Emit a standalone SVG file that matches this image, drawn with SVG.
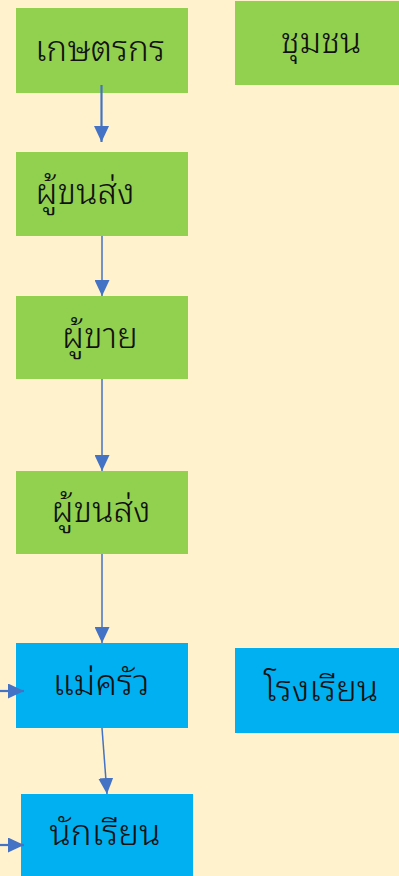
<svg xmlns="http://www.w3.org/2000/svg" width="399" height="876" viewBox="0 0 399 876">
<defs>
<style>
.g{fill:#92D050}
.b{fill:#00B0F0}
.t{font-family:"Noto Sans Thai Looped","Noto Sans Thai","Noto Sans","DejaVu Sans",sans-serif;font-size:35px;font-weight:300;fill:#111;text-anchor:middle}
.c{stroke:#4472C4;stroke-width:1.5;fill:none;marker-end:url(#ah)}
.c2{stroke:#4472C4;stroke-width:2.2;fill:none;marker-end:url(#ah)}
</style>
<marker id="ah" markerUnits="userSpaceOnUse" markerWidth="16" markerHeight="15" refX="16" refY="7.5" orient="auto">
<path d="M0,0 L16,7.5 L0,15 z" fill="#4472C4"/>
</marker>
</defs>
<rect width="399" height="876" fill="#FFF2CC"/>
<g id="n1"><rect class="g" x="16" y="8" width="172" height="85"/><text class="t" x="100" y="61">เกษตรกร</text></g>
<g id="n_community"><rect class="g" x="235" y="1" width="164" height="84"/><text class="t" x="321" y="53">ชุมชน</text></g>
<g id="n2"><rect class="g" x="16" y="152" width="172" height="84"/><text class="t" x="85" y="204">ผู้ขนส่ง</text></g>
<g id="n3"><rect class="g" x="16" y="296" width="172" height="83"/><text class="t" x="100" y="348">ผู้ขาย</text></g>
<g id="n4"><rect class="g" x="16" y="471" width="172" height="83"/><text class="t" x="101" y="522">ผู้ขนส่ง</text></g>
<g id="n5"><rect class="b" x="16" y="643" width="172" height="85"/><text class="t" x="101" y="695">แม่ครัว</text></g>
<g id="n_school"><rect class="b" x="235" y="648" width="164" height="85"/><text class="t" x="321" y="701">โรงเรียน</text></g>
<g id="n6"><rect class="b" x="21" y="794" width="172" height="90"/><text class="t" x="105" y="845">นักเรียน</text></g>
<g id="connectors">
<line class="c2" x1="101.5" y1="85" x2="101.5" y2="142"/>
<line class="c" x1="102" y1="236" x2="102" y2="296"/>
<line class="c" x1="102" y1="379" x2="102" y2="471"/>
<line class="c" x1="102" y1="554" x2="102" y2="643"/>
<line class="c" x1="102" y1="728" x2="107" y2="794"/>
<line class="c2" x1="0" y1="691" x2="24" y2="691"/>
<line class="c2" x1="0" y1="845" x2="24" y2="845"/>
</g>
</svg>
